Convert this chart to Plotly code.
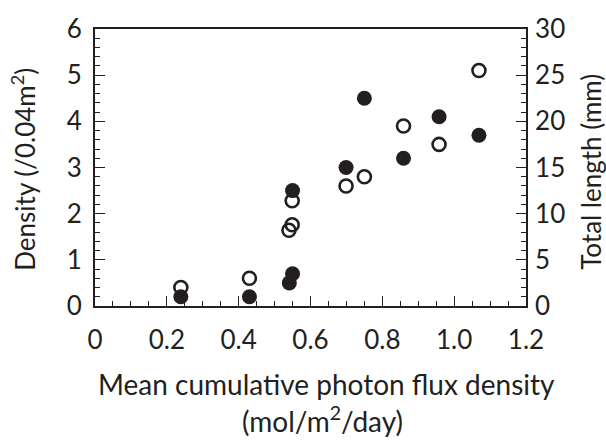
import plotly.graph_objects as go

# data
flux_filled = [0.239, 0.430, 0.541, 0.550, 0.550, 0.699, 0.750, 0.859, 0.958, 1.069]
density = [0.2, 0.2, 0.5, 0.7, 2.5, 3.0, 4.5, 3.2, 4.1, 3.7]
flux_open = [0.239, 0.430, 0.540, 0.549, 0.549, 0.699, 0.750, 0.859, 0.958, 1.069]
length_mm = [2.0, 3.0, 8.2, 8.8, 11.4, 13.0, 14.0, 19.5, 17.5, 25.5]

x_ticks = [0, 0.2, 0.4, 0.6, 0.8, 1.0, 1.2]
x_tick_labels = ["0", "0.2", "0.4", "0.6", "0.8", "1.0", "1.2"]
y_ticks = [0, 1, 2, 3, 4, 5, 6]
y2_ticks = [0, 5, 10, 15, 20, 25, 30]

INK = "#231f20"
FONT = "Lato"

fig = go.Figure()
fig.add_trace(go.Scatter(
    x=flux_open, y=length_mm, yaxis="y2", mode="markers",
    marker=dict(symbol="circle-open", size=13, color=INK, line=dict(width=2.6, color=INK)),
    showlegend=False))
fig.add_trace(go.Scatter(
    x=flux_filled, y=density, mode="markers",
    marker=dict(symbol="circle", size=15, color=INK, line=dict(width=0)),
    showlegend=False))

axis_common = dict(showgrid=False, zeroline=False, showline=True, linecolor=INK, linewidth=1.8,
                   tickcolor=INK, tickwidth=1.3, ticks="inside",
                   tickfont=dict(family=FONT, size=26, color=INK))

fig.update_layout(
    width=606, height=441,
    margin=dict(l=95, r=80, t=19, b=135),
    plot_bgcolor="white", paper_bgcolor="white",
    xaxis=dict(range=[0, 1.2], tickvals=x_ticks, ticktext=x_tick_labels, ticklen=10,
               ticklabelstandoff=10,
               mirror=True, minor=dict(dtick=0.05, ticklen=5, ticks="inside", tickcolor=INK, tickwidth=1.2),
               **axis_common),
    yaxis=dict(range=[0, 6], tickvals=y_ticks, ticklen=10, ticklabelstandoff=6,
               minor=dict(dtick=0.2, ticklen=5, ticks="inside", tickcolor=INK, tickwidth=1.2),
               **axis_common),
    yaxis2=dict(range=[0, 30], tickvals=y2_ticks, overlaying="y", side="right", ticklen=10,
                ticklabelstandoff=2,
                minor=dict(dtick=1, ticklen=5, ticks="inside", tickcolor=INK, tickwidth=1.2),
                **axis_common),
    annotations=[
        dict(text="Density (/0.04m<sup>2</sup>)", textangle=-90, xref="paper", yref="paper",
             x=-0.165, y=0.495, xanchor="center", yanchor="middle", showarrow=False,
             font=dict(family=FONT, size=26, color=INK)),
        dict(text="Total length (mm)", textangle=-90, xref="paper", yref="paper",
             x=1.149, y=0.485, xanchor="center", yanchor="middle", showarrow=False,
             font=dict(family=FONT, size=26, color=INK)),
        dict(text="Mean cumulative photon flux density", xref="paper", yref="paper",
             x=0.536, y=-0.283, xanchor="center", yanchor="middle", showarrow=False,
             font=dict(family=FONT, size=28, color=INK)),
        dict(text="(mol/m<sup>2</sup>/day)", xref="paper", yref="paper",
             x=0.529, y=-0.41, xanchor="center", yanchor="middle", showarrow=False,
             font=dict(family=FONT, size=28, color=INK)),
    ],
)

fig.write_html("out.html")
